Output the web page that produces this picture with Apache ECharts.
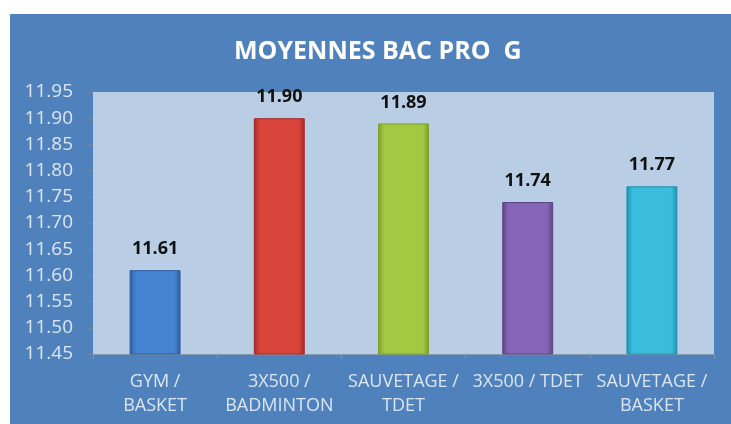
<!DOCTYPE html>
<html>
<head>
<meta charset="utf-8">
<script src="https://cdn.jsdelivr.net/npm/echarts@6/dist/echarts.min.js"></script>
<style>
  html, body { margin: 0; padding: 0; background: #fff; }
  #chart { width: 731px; height: 424px; }
</style>
</head>
<body>
<div id="chart"></div>
<script>
const categories = ['GYM /\nBASKET', '3X500 /\nBADMINTON', 'SAUVETAGE /\nTDET', '3X500 / TDET', 'SAUVETAGE /\nBASKET']
const moyennes = [11.61, 11.90, 11.89, 11.74, 11.77]
const yMin = 11.45
const yMax = 11.95
const yStep = 0.05

// couleurs des barres : bord, centre
const barColors = [
  ['#2c5c9e', '#4584d0'],
  ['#a52a26', '#d9443c'],
  ['#7b9f2a', '#a3c842'],
  ['#5c4384', '#8765b6'],
  ['#1d90b0', '#3bbcdc']
]

function barFill(c) {
  return new echarts.graphic.LinearGradient(0, 0, 1, 0, [
    { offset: 0, color: c[0] },
    { offset: 0.12, color: c[1] },
    { offset: 0.88, color: c[1] },
    { offset: 1, color: c[0] }
  ])
}

const chart = echarts.init(document.getElementById('chart'))
chart.setOption({
  animation: false,
  graphic: [{
    type: 'rect',
    z: -10,
    shape: { x: 10, y: 14, width: 721, height: 410 },
    style: { fill: '#4f81bd' }
  }],
  title: {
    text: 'MOYENNES BAC PRO  G',
    left: 229,
    top: 34,
    textStyle: {
      color: '#ffffff',
      fontFamily: 'Open Sans',
      fontWeight: 'bold',
      fontSize: 25
    }
  },
  grid: {
    left: 93,
    right: 17,
    top: 92,
    bottom: 70,
    show: true,
    backgroundColor: '#b9cde5',
    borderWidth: 0
  },
  xAxis: {
    type: 'category',
    data: categories,
    axisLine: { lineStyle: { color: '#8a9bb0', width: 1 } },
    axisTick: { show: true, length: 5, lineStyle: { color: '#7f95b3' } },
    axisLabel: {
      color: '#dce6f2',
      fontFamily: 'Open Sans',
      fontSize: 18,
      lineHeight: 24,
      margin: 16,
      interval: 0
    }
  },
  yAxis: {
    type: 'value',
    min: yMin,
    max: yMax,
    interval: yStep,
    axisLine: { show: false },
    axisTick: { show: true, length: 8, lineStyle: { color: '#6f86a6' } },
    splitLine: { show: false },
    axisLabel: {
      color: '#dce6f2',
      fontFamily: 'Open Sans',
      fontSize: 19,
      margin: 20,
      formatter: v => v.toFixed(2)
    }
  },
  series: [{
    type: 'bar',
    barWidth: '41%',
    data: moyennes.map((v, i) => ({
      value: v,
      itemStyle: {
        color: barFill(barColors[i]),
        borderColor: barColors[i][0],
        borderWidth: 1
      }
    })),
    label: {
      show: true,
      position: 'top',
      distance: 12,
      color: '#111111',
      fontFamily: 'Open Sans',
      fontWeight: 'bold',
      fontSize: 18,
      formatter: p => p.value.toFixed(2)
    }
  }]
})
</script>
</body>
</html>
